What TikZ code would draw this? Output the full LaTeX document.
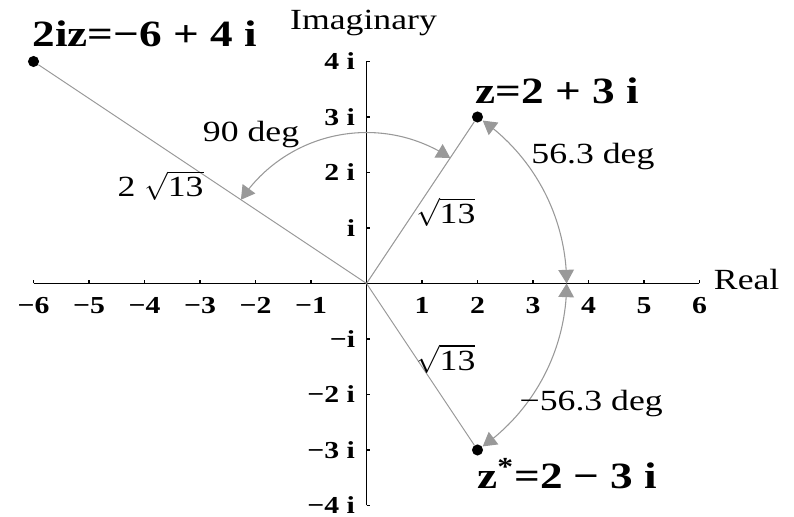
\documentclass[tikz,border=0pt]{standalone}
\usepackage{fontspec}
\setmainfont[FakeStretch=1.22]{Liberation Serif}
\usetikzlibrary{arrows.meta,bending}
\definecolor{argray}{gray}{0.6}

\begin{document}
\begin{tikzpicture}[
dot/.style={circle,fill=black,inner sep=0pt,minimum size=0.2cm},
axis/.style={line width=0.75pt},
ray/.style={draw=argray,line width=0.5pt},
anglearc/.style={{Triangle[length=7pt,width=8pt,flex]}-{Triangle[length=7pt,width=8pt,flex]},color=argray,line width=0.55pt},
ptlabel/.style={font=\fontsize{19}{22}\selectfont\bfseries,inner sep=0pt,anchor=base},
anglelabel/.style={font=\fontsize{15}{18}\selectfont,inner sep=0pt,anchor=base},
axislabel/.style={font=\fontsize{15}{18}\selectfont,inner sep=0pt,anchor=base},
ticklabel/.style={font=\fontsize{12.5}{15}\selectfont\bfseries,inner sep=0pt}
]
\useasboundingbox (-6.604,-4.207) rectangle (7.703,5.108);

\coordinate (O) at (0,0);
\coordinate (xmin) at (-6,0);
\coordinate (xmax) at (6,0);
\coordinate (ymin) at (0,-4);
\coordinate (ymax) at (0,4);

% axes
\draw[axis] (xmin) -- (xmax);
\draw[axis] (ymin) -- (ymax);
\foreach \x/\t in {-6/−6,-5/−5,-4/−4,-3/−3,-2/−2,-1/−1,1/1,2/2,3/3,4/4,5/5,6/6}{
  \draw[axis] (\x,0) -- (\x,0.07);
  \node[ticklabel,anchor=base](tx\x) at (\x,-0.537) {\t};
}
\foreach \y/\t in {-4/−4 i,-3/−3 i,-2/−2 i,-1/−i,1/i,2/2 i,3/3 i,4/4 i}{
  \draw[axis] (0,\y) -- (0.07,\y);
  \node[ticklabel,anchor=base east](ty\y) at (-0.2,\y-0.15) {\t};
}
\node[axislabel](re) at (6.85,-0.117) {Real};
\node[axislabel](im) at (-0.054,4.57) {Imaginary};

% points
\node[dot](Z) at (2,3) {};
\node[dot](Zc) at (2,-3) {};
\node[dot](W) at (-6,4) {};

\draw[ray] (O) -- (Z);
\draw[ray] (O) -- (Zc);
\draw[ray] (O) -- (W);

\node[ptlabel](zlab) at (3.44,3.25) {z=2 + 3 i};
\node[ptlabel](zclab) at (3.62,-3.685) {z\textsuperscript{*}=2 − 3 i};
\node[ptlabel](wlab) at (-4.0,4.27) {2iz=−6 + 4 i};

% angle arcs
\coordinate (a1) at (146.31:2.72);
\coordinate (b1) at (54.5:3.606);
\coordinate (c1) at (0:3.606);
\draw[anglearc] (a1) arc[start angle=146.31,end angle=56.31,radius=2.72];
\draw[anglearc] (b1) arc[start angle=54.5,end angle=0,radius=3.606];
\draw[anglearc] (c1) arc[start angle=0,end angle=-54.5,radius=3.606];

\node[anglelabel](l90) at (-2.08,2.555) {90 deg};
\node[anglelabel](l56) at (4.08,2.17) {56.3 deg};
\node[anglelabel](lm56) at (4.05,-2.28) {−56.3 deg};

% lengths
\node[anglelabel](r1) at (1.43,1.086) {$\sqrt{\mbox{13}}$};
\node[anglelabel](r2) at (1.43,-1.56) {$\sqrt{\mbox{13}}$};
\node[anglelabel](r3) at (-3.71,1.564) {2 $\sqrt{\mbox{13}}$};

\end{tikzpicture}
\end{document}
